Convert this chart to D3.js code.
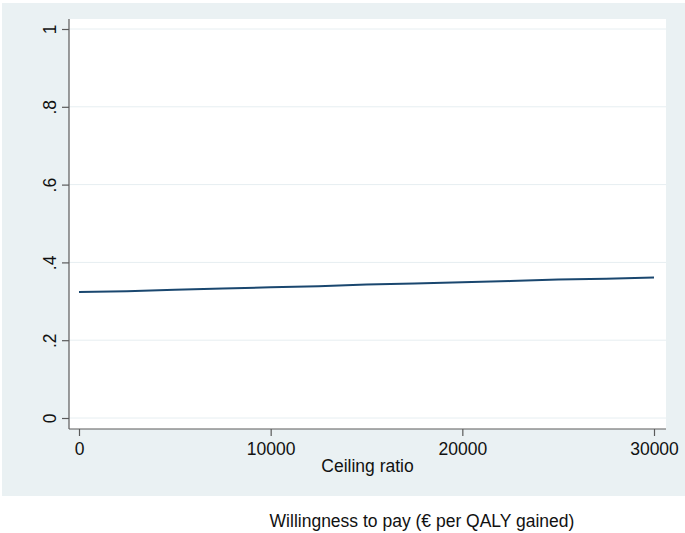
<!DOCTYPE html>
<html>
<head>
<meta charset="utf-8">
<script src="https://cdn.jsdelivr.net/npm/d3@7"></script>
<style>
html,body{margin:0;padding:0;background:#fff;}
svg{display:block;font-family:"Liberation Sans",Arial,sans-serif;}
</style>
</head>
<body>
<svg id="chart" width="685" height="533"></svg>
<script>
const ceilingRatio = [0, 2500, 5000, 7500, 10000, 12500, 15000, 17500, 20000, 22500, 25000, 27500, 30000];
const probability  = [0.324, 0.326, 0.330, 0.333, 0.336, 0.339, 0.343, 0.346, 0.349, 0.352, 0.356, 0.358, 0.361];
const xTicks = [0, 10000, 20000, 30000];
const yTicks = [0, 0.2, 0.4, 0.6, 0.8, 1];
const yTickLabels = ["0", ".2", ".4", ".6", ".8", "1"];
const xTitle = "Ceiling ratio";
const noteText = "Willingness to pay (€ per QALY gained)";

const svg = d3.select("#chart");
const bg = "#eaf1f3";

svg.append("rect").attr("x", 2).attr("y", 3).attr("width", 683).attr("height", 493).attr("fill", bg);

const plot = {left: 69, right: 666, top: 19, bottom: 429};
svg.append("rect").attr("x", plot.left).attr("y", plot.top)
  .attr("width", plot.right - plot.left).attr("height", plot.bottom - plot.top).attr("fill", "#fff");

const x = d3.scaleLinear().domain([0, 30000]).range([79, 654]);
const y = d3.scaleLinear().domain([0, 1]).range([418, 29]);

// gridlines
svg.append("g").selectAll("line").data(yTicks).join("line")
  .attr("x1", plot.left).attr("x2", plot.right)
  .attr("y1", d => y(d)).attr("y2", d => y(d))
  .attr("stroke", "#e6eef1").attr("stroke-width", 1);

// y axis
const yAxis = d3.axisLeft(y).tickValues(yTicks).tickSize(7).tickPadding(6)
  .tickFormat((d, i) => yTickLabels[i]);
const gy = svg.append("g").attr("transform", `translate(${plot.left},0)`).call(yAxis);
gy.select(".domain").remove();
gy.append("line").attr("x1", 0).attr("x2", 0).attr("y1", plot.top).attr("y2", plot.bottom)
  .attr("stroke", "#5a5a5a").attr("stroke-width", 1.2);
gy.selectAll(".tick line").attr("stroke", "#5a5a5a").attr("stroke-width", 1.2);
gy.selectAll(".tick text")
  .attr("font-size", 17.5).attr("fill", "#111")
  .attr("text-anchor", "middle")
  .attr("transform", "rotate(-90)")
  .attr("x", 0).attr("y", -13).attr("dy", 0);

// x axis
const xAxis = d3.axisBottom(x).tickValues(xTicks).tickSize(7).tickPadding(7)
  .tickFormat(d3.format("d"));
const gx = svg.append("g").attr("transform", `translate(0,${plot.bottom})`).call(xAxis);
gx.select(".domain").remove();
gx.append("line").attr("x1", plot.left).attr("x2", plot.right).attr("y1", 0).attr("y2", 0)
  .attr("stroke", "#5a5a5a").attr("stroke-width", 1.2);
gx.selectAll(".tick line").attr("stroke", "#5a5a5a").attr("stroke-width", 1.2);
gx.selectAll(".tick text").attr("font-size", 17.5).attr("fill", "#111");

// line
const line = d3.line().x((d, i) => x(ceilingRatio[i])).y(d => y(d));
svg.append("path").datum(probability)
  .attr("d", line).attr("fill", "none")
  .attr("stroke", "#1a476f").attr("stroke-width", 2);

// titles
svg.append("text").attr("x", (plot.left + plot.right) / 2).attr("y", 472)
  .attr("text-anchor", "middle").attr("font-size", 17.5).attr("fill", "#111").text(xTitle);

svg.append("text").attr("x", 422).attr("y", 527)
  .attr("text-anchor", "middle").attr("font-size", 17.5).attr("fill", "#111").text(noteText);
</script>
</body>
</html>
